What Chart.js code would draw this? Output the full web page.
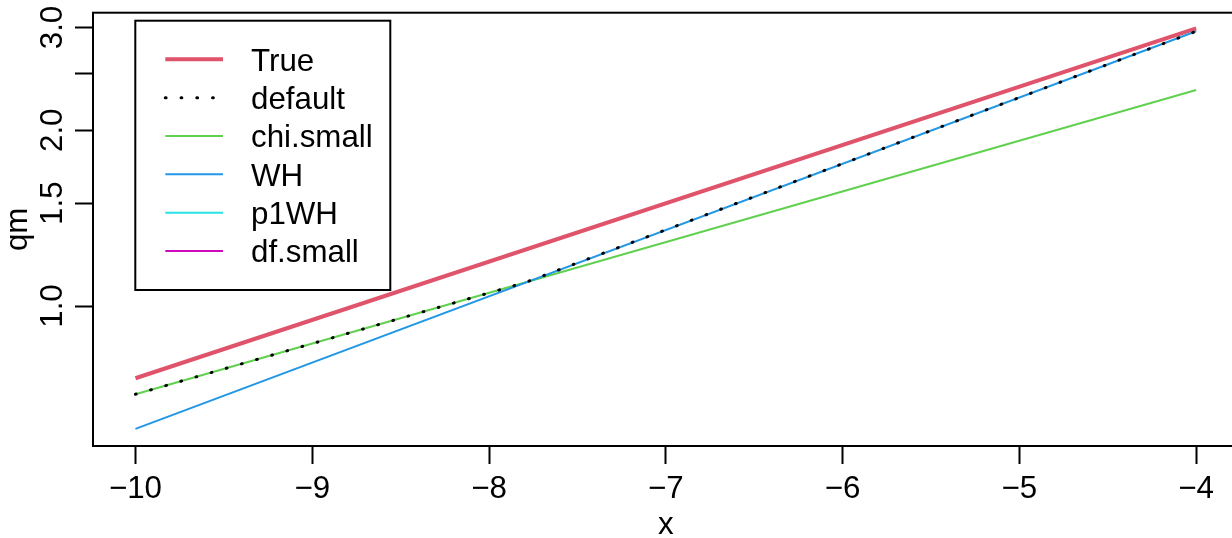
<!DOCTYPE html>
<html><head><meta charset="utf-8">
<script src="https://cdn.jsdelivr.net/npm/chart.js@4/dist/chart.umd.min.js"></script>
<style>
html,body{margin:0;padding:0;overflow:hidden;background:#fff;width:1232px;height:538px}
#wrap{position:absolute;left:0;top:0;width:1262px;height:538px}
</style>
</head><body><div id="wrap"><canvas id="c" width="1262" height="538"></canvas></div>
<script>
// ---- data ----
const xTicks = [-10, -9, -8, -7, -6, -5, -4];
const yTicks = [1.0, 1.5, 2.0, 2.5, 3.0];
const yTickLabels = ["1.0", "1.5", "2.0", "", "3.0"];
const seriesNames = ["True", "default", "chi.small", "WH", "p1WH", "df.small"];

const xTrue = [-10, -4];
const qmTrue = [0.752, 2.99];
const xChiSmall = [-10, -4];
const qmChiSmall = [0.706, 2.344];
const xWH = [-10, -4];
const qmWH = [0.616, 2.955];
const xDefault = [-10, -7.8, -4];
const qmDefault = [0.706, 1.096, 2.955];
const xP1WH = [];
const qmP1WH = [];
const xDfSmall = [];
const qmDfSmall = [];

const FONT = '"Liberation Sans", Arial, Helvetica, sans-serif';
const FS = 31.3;
const pts = (xs, ys) => xs.map((x, i) => ({x: x, y: ys[i]}));

const styles = [
  {color: '#DF536B', width: 4, dash: []},
  {color: '#000000', width: 3, dash: [0.8, 14.95]},
  {color: '#61D04F', width: 2, dash: []},
  {color: '#2297E6', width: 2, dash: []},
  {color: '#28E2E5', width: 2, dash: []},
  {color: '#CD0BBC', width: 2, dash: []}
];
const seriesData = [
  pts(xTrue, qmTrue), pts(xDefault, qmDefault), pts(xChiSmall, qmChiSmall),
  pts(xWH, qmWH), pts(xP1WH, qmP1WH), pts(xDfSmall, qmDfSmall)
];
const drawOrder = [10, 0, 8, 7, 6, 5];

const datasets = seriesNames.map((n, i) => ({
  label: n,
  data: seriesData[i],
  borderColor: styles[i].color,
  backgroundColor: styles[i].color,
  borderWidth: styles[i].width,
  borderDash: styles[i].dash,
  borderCapStyle: i === 1 ? 'round' : 'butt',
  pointRadius: 0,
  tension: 0,
  fill: false,
  order: drawOrder[i]
}));

const framePlugin = {
  id: 'frameLegend',
  afterDraw(chart) {
    const {ctx, chartArea: a} = chart;
    ctx.save();
    ctx.strokeStyle = '#000';
    ctx.lineWidth = 2;
    ctx.strokeRect(a.left, a.top, a.right - a.left, a.bottom - a.top);
    // legend box
    const bx = 135.3, by = 20.7, bw = 255, bh = 269.3;
    ctx.fillStyle = '#fff';
    ctx.fillRect(bx, by, bw, bh);
    ctx.strokeRect(bx, by, bw, bh);
    ctx.font = FS + 'px ' + FONT;
    ctx.textBaseline = 'alphabetic';
    ctx.textAlign = 'left';
    chart.data.datasets.forEach((ds, i) => {
      const yy = 59.3 + i * 38.35;
      ctx.beginPath();
      ctx.strokeStyle = ds.borderColor;
      ctx.lineWidth = ds.borderWidth;
      ctx.setLineDash(ds.borderDash || []);
      ctx.lineCap = ds.borderCapStyle;
      ctx.moveTo(165.3, yy);
      ctx.lineTo(223, yy);
      ctx.stroke();
      ctx.setLineDash([]);
      ctx.fillStyle = '#000';
      ctx.fillText(ds.label, 251, yy + 11.2);
    });
    ctx.restore();
  }
};

new Chart(document.getElementById('c'), {
  type: 'line',
  data: {datasets: datasets},
  plugins: [framePlugin],
  options: {
    responsive: false,
    animation: false,
    devicePixelRatio: 1,
    layout: {padding: {left: 0, top: 12.7, right: 23.4, bottom: 0}},
    plugins: {legend: {display: false}, tooltip: {enabled: false}},
    scales: {
      x: {
        type: 'linear', min: -10.24, max: -3.76,
        afterBuildTicks: s => { s.ticks = xTicks.map(v => ({value: v})); },
        afterFit: s => { s.height = 92; s.paddingLeft = 0; s.paddingRight = 0; },
        ticks: {
          autoSkip: false, maxRotation: 0, minRotation: 0, padding: 6.5, color: '#000',
          font: {family: FONT, size: FS},
          callback: v => (v < 0 ? '\u2212' : '') + Math.abs(v)
        },
        grid: {display: true, drawOnChartArea: false, drawTicks: true, tickLength: 18, tickColor: '#000', tickWidth: 2},
        border: {display: true, color: '#000', width: 2},
        title: {display: true, text: 'x', color: '#000', font: {family: FONT, size: FS, lineHeight: 1}, padding: {top: 0, bottom: -3}}
      },
      y: {
        type: 'logarithmic', min: 0.5757, max: 3.18,
        afterBuildTicks: s => { s.ticks = yTicks.map(v => ({value: v})); },
        afterFit: s => { s.width = 93; s.paddingTop = 0; s.paddingBottom = 0; },
        ticks: {
          autoSkip: false, minRotation: 90, maxRotation: 90, crossAlign: 'center', padding: 0, color: '#000',
          font: {family: FONT, size: FS},
          callback: (v) => yTickLabels[yTicks.indexOf(v)] ?? ''
        },
        grid: {display: true, drawOnChartArea: false, drawTicks: true, tickLength: 18, tickColor: '#000', tickWidth: 2},
        border: {display: true, color: '#000', width: 2},
        title: {display: true, text: 'qm', color: '#000', font: {family: FONT, size: FS, lineHeight: 1}, padding: {top: 2.5, bottom: 0}}
      }
    }
  }
});
</script>
</body></html>
